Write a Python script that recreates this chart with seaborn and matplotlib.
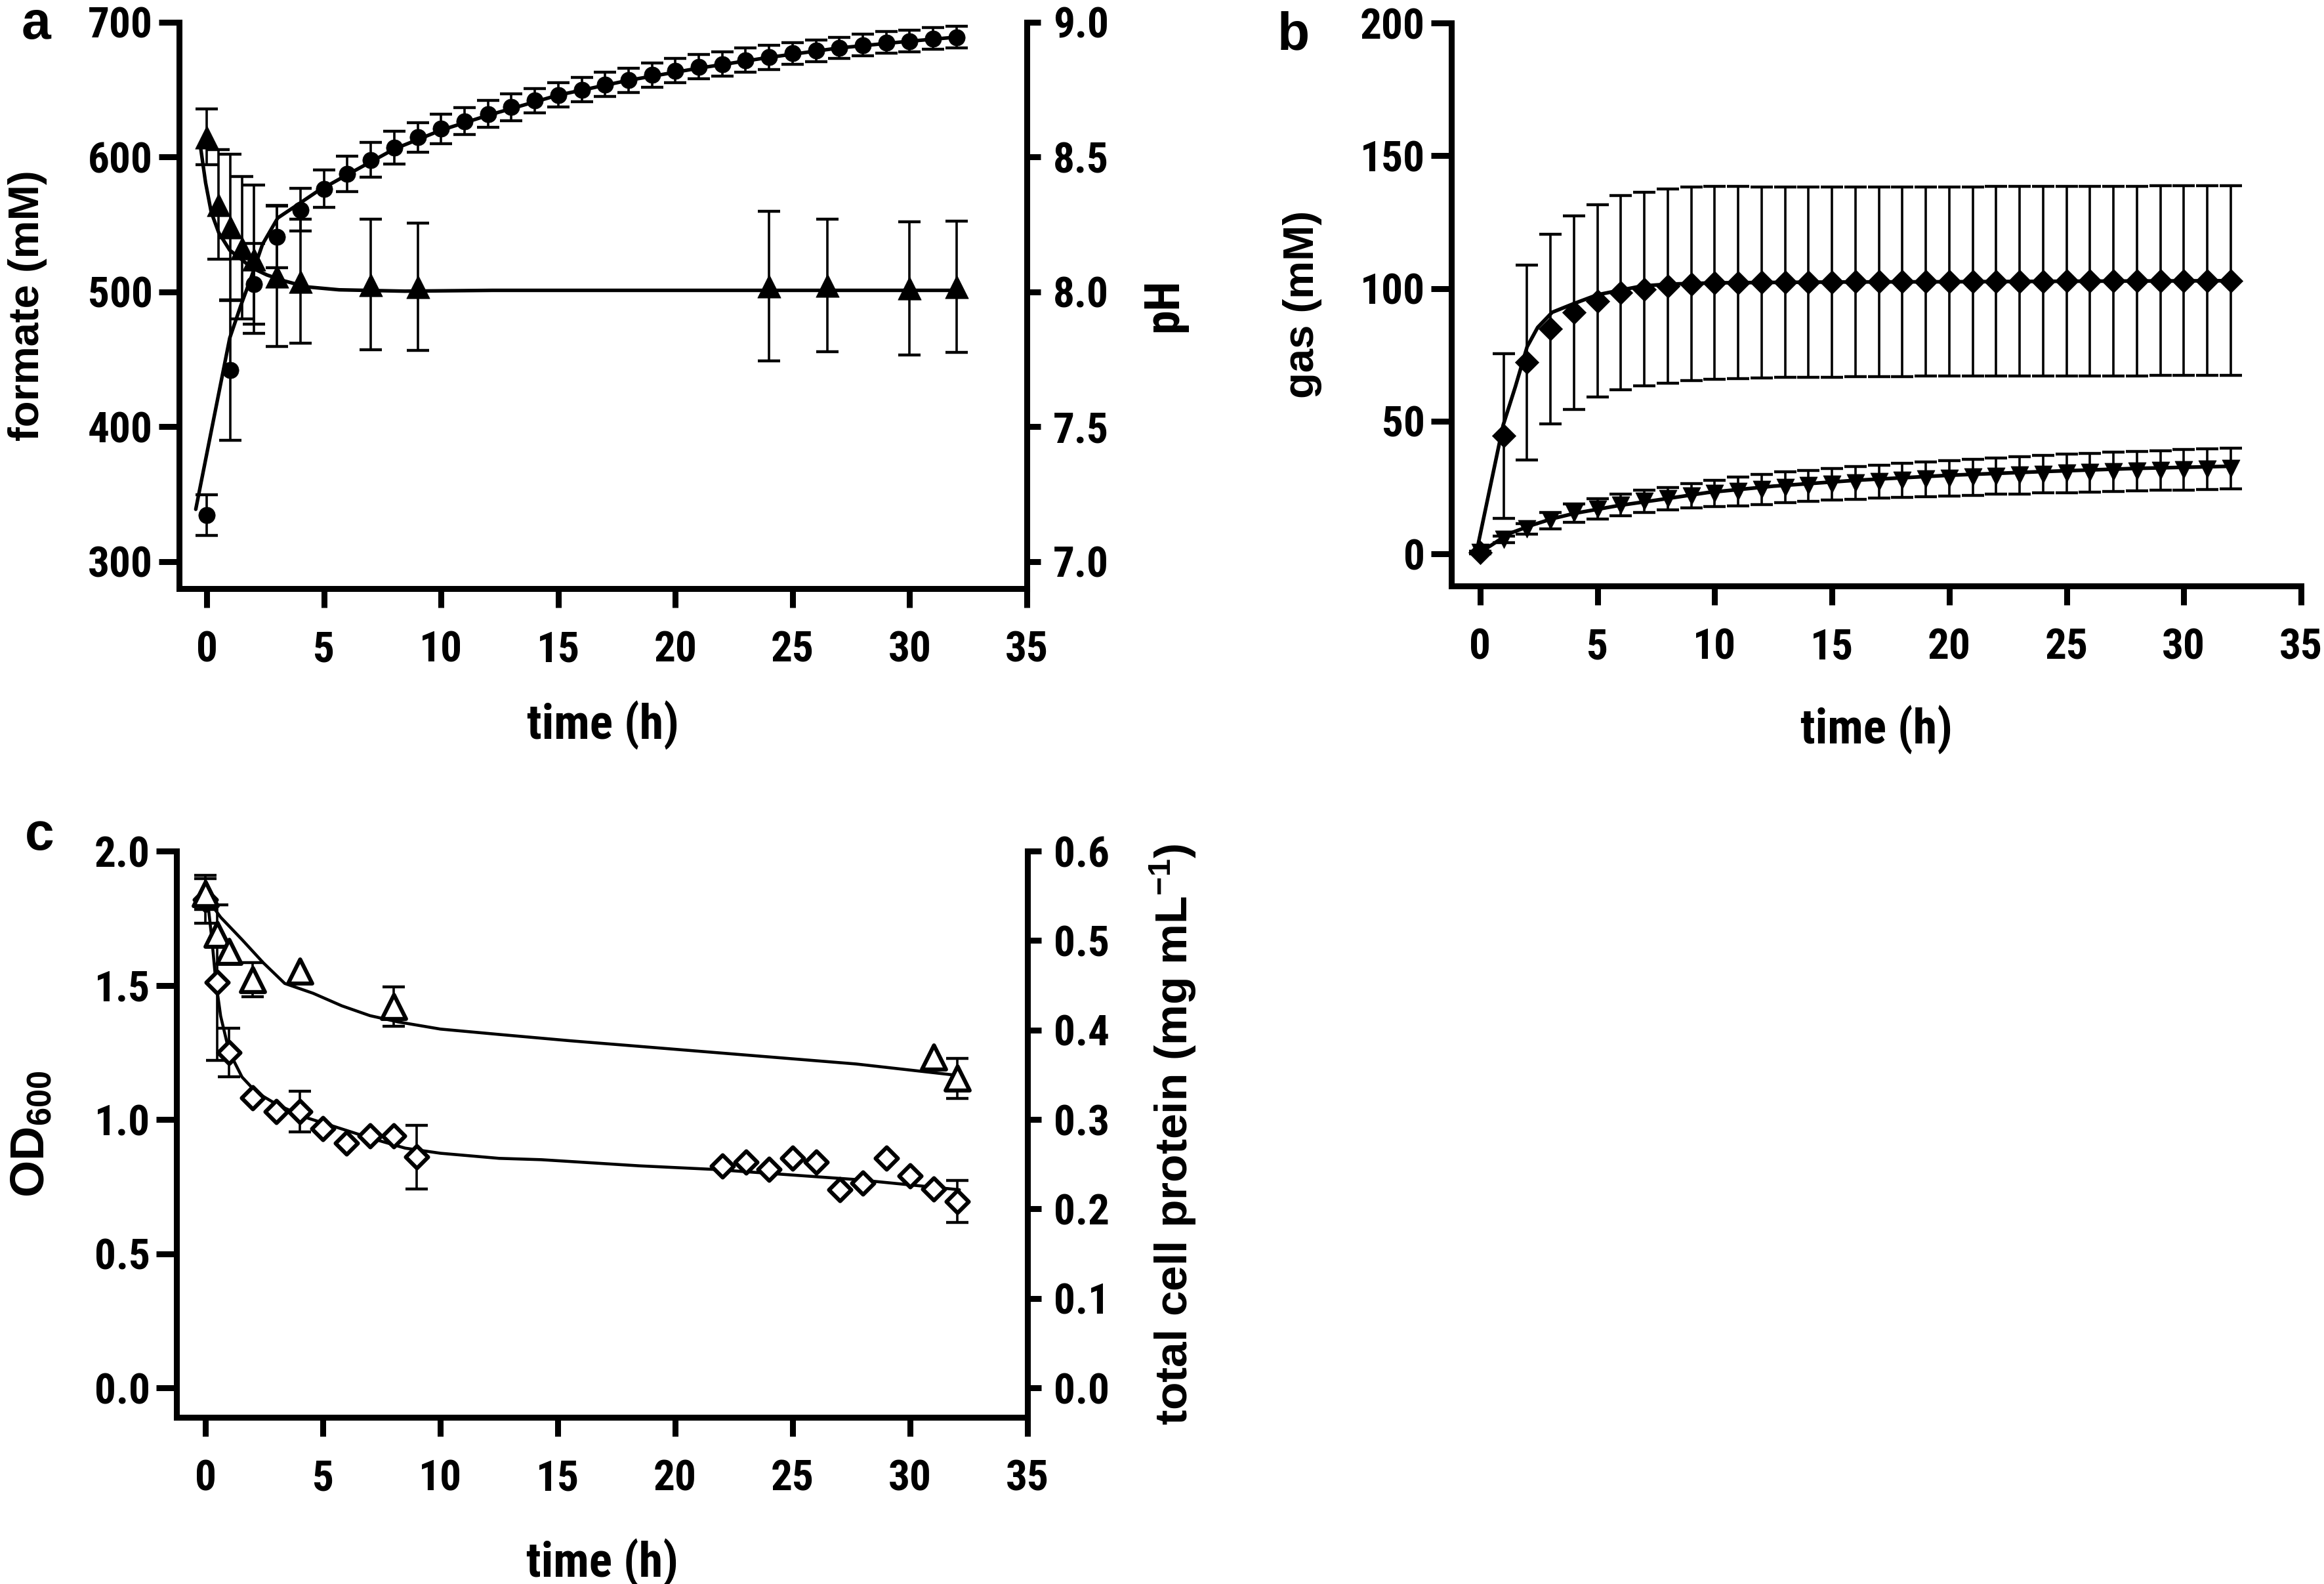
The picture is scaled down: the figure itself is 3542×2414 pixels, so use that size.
import matplotlib
matplotlib.use("Agg")
import matplotlib.pyplot as plt
from matplotlib.ticker import FormatStrFormatter
from matplotlib import font_manager
import seaborn as sns

# panel a: formate (left axis) and pH (right axis)
formate_t = list(range(33))
formate_mean = [334.5, 442, 506, 541, 561, 576.6, 587.5, 598, 607, 614.6, 621, 626.6, 632,
                637, 642, 646, 650, 654, 657, 661, 664, 667, 669, 672, 674, 677, 679, 681,
                683, 685, 686, 688, 689]
formate_sd = [15, 52, 30, 23, 16, 14, 13, 13, 12, 11, 11, 10, 10, 10, 9, 9, 9, 9, 9, 9, 9, 9,
              9, 9, 9, 8, 8, 8, 8, 8, 8, 8, 8]
ph_t = [0, 0.5, 1, 1.5, 2, 3, 4, 7, 9, 24, 26.5, 30, 32]
ph_mean = [8.575, 8.324, 8.240, 8.163, 8.121, 8.058, 8.04, 8.027, 8.019, 8.021, 8.024, 8.014, 8.019]
ph_sd = [0.103, 0.203, 0.272, 0.264, 0.275, 0.26, 0.23, 0.242, 0.236, 0.277, 0.246, 0.247, 0.244]
formate_fit_t = [-0.47, 0.98, 1.45, 1.91, 2.38, 3.03, 3.78, 4.71, 6, 8, 10, 12, 15, 18, 21, 24, 27, 30, 32]
formate_fit = [338.8, 465.8, 489.8, 511.5, 535.4, 554.9, 563.6, 574.5, 587, 606, 620, 631, 646,
               657, 666, 674, 681, 686, 689]
ph_fit_t = [-0.28, -0.05, 0.19, 0.51, 0.98, 1.45, 1.91, 2.57, 3.31, 4.25, 5.65, 8.45, 12.2, 20, 32]
ph_fit = [8.546, 8.405, 8.296, 8.220, 8.155, 8.123, 8.090, 8.063, 8.041, 8.019, 8.008, 8.003,
          8.006, 8.006, 8.006]

# panel b: gas
gas_t = list(range(33))
h2_mean = [0.6, 44.4, 72.1, 84.7, 90.9, 95.3, 98.4, 99.7, 100.9, 101.7, 102.1, 102.2, 102.3,
           102.3, 102.4, 102.4, 102.5, 102.5, 102.5, 102.6, 102.6, 102.6, 102.7, 102.7, 102.7,
           102.8, 102.8, 102.8, 102.8, 102.9, 102.9, 102.9, 102.9]
h2_sd = [0.5, 31.1, 36.7, 35.8, 36.5, 36.2, 36.7, 36.5, 36.5, 36.5, 36.4, 36.2, 36.0, 35.9,
         35.9, 35.8, 35.8, 35.8, 35.7, 35.7, 35.7, 35.7, 35.7, 35.7, 35.7, 35.7, 35.7, 35.7,
         35.7, 35.7, 35.7, 35.7, 35.7]
co2_mean = [0.5, 5.5, 9.5, 12.5, 15.3, 16.9, 18.4, 19.7, 20.8, 21.8, 22.7, 23.5, 24.3, 25.0,
            25.6, 26.2, 26.7, 27.2, 27.7, 28.1, 28.5, 28.9, 29.3, 29.6, 30.0, 30.3, 30.6, 30.9,
            31.2, 31.4, 31.7, 31.9, 32.1]
co2_sd = [0.3, 1.2, 2.0, 3.0, 3.5, 3.9, 4.0, 4.2, 4.3, 4.6, 5.0, 5.4, 5.7, 5.8, 5.9, 6.0, 6.1,
          6.2, 6.4, 6.5, 6.7, 6.8, 6.9, 7.0, 7.1, 7.2, 7.3, 7.4, 7.5, 7.5, 7.6, 7.7, 7.7]
h2_fit_t = [-0.15, 0.98, 1.5, 2.0, 2.45, 3.07, 4.0, 5.0, 5.95, 6.9, 8, 10, 15, 20, 25, 32]
h2_fit = [1.0, 48.5, 63, 78, 85.3, 91, 94.3, 97.6, 99.3, 100.9, 101.6, 102.1, 102.4, 102.5, 102.7, 102.9]
co2_fit_t = [0, 0.5, 1.2, 2.2, 3.1, 4.05, 5.9, 7.8, 9.7, 12.5, 16, 20, 24, 28, 32]
co2_fit = [0.6, 3.4, 7.5, 10.8, 13.3, 15.3, 18.2, 20.6, 23.1, 25.5, 27.7, 29.6, 31.0, 32.2, 33.0]

# panel c: OD600 (left axis) and total cell protein (right axis); 0 = bar hidden by marker
od_t = [0, 0.5, 1, 2, 3, 4, 5, 6, 7, 8, 9, 22, 23, 24, 25, 26, 27, 28, 29, 30, 31, 32]
od_mean = [1.82, 1.51, 1.25, 1.08, 1.03, 1.03, 0.965, 0.912, 0.94, 0.94, 0.86, 0.827, 0.84,
           0.814, 0.855, 0.84, 0.738, 0.764, 0.855, 0.789, 0.742, 0.694]
od_sd = [0.09, 0.29, 0.09, 0, 0, 0.076, 0, 0, 0, 0, 0.118, 0, 0, 0, 0, 0, 0, 0, 0, 0, 0, 0.078]
prot_t = [0, 0.5, 1, 2, 4, 8, 31, 32]
prot_mean = [0.552, 0.507, 0.488, 0.456, 0.466, 0.426, 0.370, 0.346]
prot_sd = [0.017, 0, 0, 0.019, 0, 0.022, 0, 0.0225]
od_fit_t = [0, 0.09, 0.27, 0.43, 0.64, 1.0, 1.55, 2.16, 3.07, 4.28, 5.5, 7.0, 8.5, 10.0, 12.5,
            14.3, 18.5, 21.6, 27.7, 32.1]
od_fit = [1.84, 1.81, 1.669, 1.518, 1.385, 1.253, 1.158, 1.101, 1.054, 1.007, 0.973, 0.931,
          0.893, 0.874, 0.855, 0.85, 0.827, 0.814, 0.776, 0.738]
prot_fit_t = [0, 0.64, 1.55, 2.46, 3.37, 4.58, 5.8, 7.0, 8.2, 10.0, 12.5, 15.5, 21.6, 27.7, 32.1]
prot_fit = [0.549, 0.526, 0.501, 0.475, 0.452, 0.441, 0.427, 0.416, 0.409, 0.401, 0.395, 0.388,
            0.375, 0.362, 0.349]

x_ticks = [0, 5, 10, 15, 20, 25, 30, 35]
formate_ticks = [300, 400, 500, 600, 700]
ph_ticks = [7.0, 7.5, 8.0, 8.5, 9.0]
gas_ticks = [0, 50, 100, 150, 200]
od_ticks = [0.0, 0.5, 1.0, 1.5, 2.0]
prot_ticks = [0.0, 0.1, 0.2, 0.3, 0.4, 0.5, 0.6]

sns.set_theme(style="ticks")

# narrow bold face for ticks / time labels if one is installed
faces = font_manager.fontManager.ttflist
narrow, stretch = None, "normal"
for name in ["Liberation Sans Narrow", "Arial Narrow", "Roboto Condensed",
             "Open Sans Condensed", "Noto Sans Condensed"]:
    if any(f.name == name for f in faces):
        narrow = name
        break
if narrow is None:
    for f in faces:
        if f.name in ("Noto Sans", "Roboto", "Open Sans", "Liberation Sans") and \
                f.stretch in ("condensed", "semi-condensed", 500, 600, 700):
            narrow, stretch = f.name, "condensed"
            break
if narrow is None:
    narrow = "Liberation Sans"
tick_size = 42 if narrow == "Liberation Sans" else 47
time_size = 47 if narrow == "Liberation Sans" else 53

plt.rcParams["font.family"] = [narrow, "DejaVu Sans"]
plt.rcParams.update({
    "font.weight": "bold",
    "font.stretch": stretch,
    "axes.labelweight": "bold",
    "axes.linewidth": 6.5,
    "axes.edgecolor": "black",
    "axes.labelcolor": "black",
    "text.color": "black",
    "mathtext.default": "regular",
    "xtick.color": "black",
    "ytick.color": "black",
})
wide = dict(family=["Liberation Sans", "DejaVu Sans"], weight="bold", stretch="normal")

W, H = 3542, 2414
fig = plt.figure(figsize=(W / 100, H / 100), dpi=100)


def box(left, top, right, bottom):
    # pixel box -> figure fraction
    return [left / W, 1 - bottom / H, (right - left) / W, (bottom - top) / H]


def frame(ax):
    for side in ["top", "right"]:
        ax.spines[side].set_visible(False)
    for side in ["left", "bottom"]:
        ax.spines[side].set_capstyle("projecting")
    ax.tick_params(axis="y", direction="out", length=22, width=6.5, labelsize=tick_size, pad=7)
    ax.tick_params(axis="x", direction="out", length=21, width=6.5, labelsize=tick_size, pad=25)
    ax.set_xticks(x_ticks)
    ax.grid(False)


def right_frame(ax):
    for side in ["top", "left", "bottom"]:
        ax.spines[side].set_visible(False)
    ax.spines["right"].set_capstyle("projecting")
    ax.tick_params(axis="y", direction="out", length=15, width=6.5, labelsize=tick_size, pad=14)
    ax.grid(False)


def series(ax, t, mean, sd, fit_t, fit, marker, size, face, edge_lw, line_w):
    bars = [(a, b, c) for a, b, c in zip(t, mean, sd) if c > 0]
    ax.errorbar([b[0] for b in bars], [b[1] for b in bars], yerr=[b[2] for b in bars],
                fmt="none", ecolor="black", elinewidth=2.6, capsize=12, capthick=3.2, zorder=2)
    sns.lineplot(x=fit_t, y=fit, ax=ax, color="black", linewidth=line_w, zorder=3)
    sns.scatterplot(x=t, y=mean, ax=ax, marker=marker, s=size, color=face,
                    edgecolor="black", linewidth=edge_lw, zorder=4, legend=False)


# ---- a
ax_a = fig.add_axes(box(273, 34, 1565, 897))
ax_ph = ax_a.twinx()
series(ax_a, formate_t, formate_mean, formate_sd, formate_fit_t, formate_fit, "o", 330, "black", 0.5, 3.9)
series(ax_ph, ph_t, ph_mean, ph_sd, ph_fit_t, ph_fit, "^", 650, "black", 0.5, 3.9)
frame(ax_a)
right_frame(ax_ph)
ax_a.set_xlim(-1.18, 35)
ax_a.set_ylim(280, 700)
ax_ph.set_ylim(6.9, 9.0)
ax_a.set_yticks(formate_ticks)
ax_ph.set_yticks(ph_ticks)
ax_ph.yaxis.set_major_formatter(FormatStrFormatter("%.1f"))
ax_a.set_xlabel("time (h)", fontsize=time_size)
ax_a.xaxis.set_label_coords(0.5, -0.198)
ax_a.set_ylabel("formate (mM)", fontsize=47, **wide)
ax_a.yaxis.set_label_coords(-0.1556, 0.5)
ax_ph.set_ylabel("pH", fontsize=time_size)
ax_ph.yaxis.set_label_coords(1.1347, 0.5)

# ---- b
ax_b = fig.add_axes(box(2212, 35, 3507, 893))
series(ax_b, gas_t, co2_mean, co2_sd, co2_fit_t, co2_fit, "v", 380, "black", 0.5, 4.0)
series(ax_b, gas_t, h2_mean, h2_sd, h2_fit_t, h2_fit, "D", 340, "black", 0.5, 4.0)
frame(ax_b)
ax_b.set_xlim(-1.23, 35)
ax_b.set_ylim(-12.1, 200)
ax_b.set_yticks(gas_ticks)
ax_b.set_xlabel("time (h)", fontsize=time_size)
ax_b.xaxis.set_label_coords(0.5, -0.212)
ax_b.set_ylabel("gas (mM)", fontsize=47, **wide)
ax_b.yaxis.set_label_coords(-0.152, 0.5)

# ---- c
ax_c = fig.add_axes(box(269, 1297, 1566, 2160))
ax_prot = ax_c.twinx()
series(ax_c, od_t, od_mean, od_sd, od_fit_t, od_fit, "D", 300, "white", 4.4, 3.3)
series(ax_prot, prot_t, prot_mean, prot_sd, prot_fit_t, prot_fit, "^", 700, "white", 4.4, 3.3)
frame(ax_c)
right_frame(ax_prot)
ax_c.set_xlim(-1.24, 35)
ax_c.set_ylim(-0.11, 2.0)
ax_prot.set_ylim(-0.033, 0.6)
ax_c.set_yticks(od_ticks)
ax_prot.set_yticks(prot_ticks)
ax_c.yaxis.set_major_formatter(FormatStrFormatter("%.1f"))
ax_prot.yaxis.set_major_formatter(FormatStrFormatter("%.1f"))
ax_c.set_xlabel("time (h)", fontsize=time_size)
ax_c.xaxis.set_label_coords(0.5, -0.214)
ax_c.set_ylabel("OD$_{600}$", fontsize=52, **wide)
ax_c.yaxis.set_label_coords(-0.1442, 0.5)
ax_prot.set_ylabel("total cell protein (mg mL$^{-1}$)", fontsize=50, **wide)
ax_prot.yaxis.set_label_coords(1.142, 0.5)

# panel letters
for letter, px, py in [("a", 33, 59), ("b", 1947, 75), ("c", 38, 1295)]:
    fig.text(px / W, 1 - py / H, letter, fontsize=58, ha="left", va="baseline", **wide)

fig.savefig("out.png", dpi=100)
